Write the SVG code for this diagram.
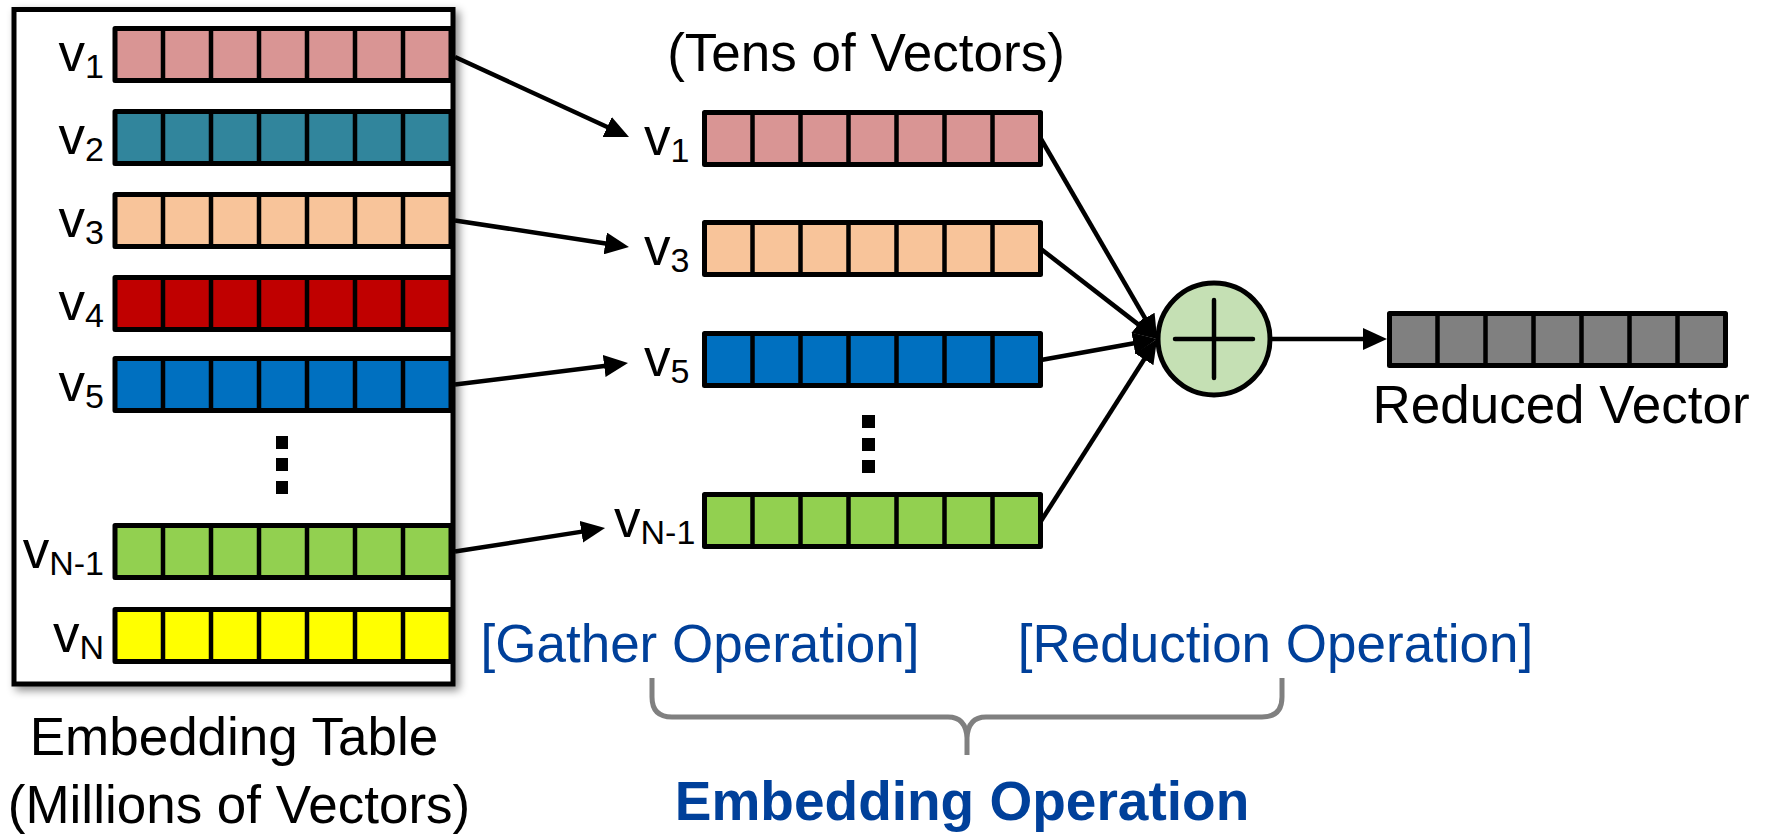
<svg xmlns="http://www.w3.org/2000/svg" xmlns:xlink="http://www.w3.org/1999/xlink" width="1766" height="834" viewBox="0 0 1766 834">
  <style>
    text { font-family: "Liberation Sans", Arial, sans-serif; fill: #000; }
    .lbl { font-size: 53px; }
    .sub { font-size: 34px; }
    .cap { font-size: 53px; }
    .op { font-size: 53px; fill: #00409A; }
    .opb { font-size: 55px; font-weight: bold; fill: #00409A; }
    .link { fill: none; stroke: #000; stroke-width: 4.5; marker-end: url(#head); }
    .dot { fill: #000; }
  </style>
  <defs>
    <!-- 7-cell vector outline, 48px per cell -->
    <g id="grid">
      <rect x="0" y="0" width="336" height="52" fill="none" stroke="#000" stroke-width="5" stroke-linejoin="round"/>
      <path d="M48,0V52M96,0V52M144,0V52M192,0V52M240,0V52M288,0V52" stroke="#000" stroke-width="4.5"/>
    </g>
    <marker id="head" markerUnits="userSpaceOnUse" markerWidth="24" markerHeight="22" refX="12" refY="11" orient="auto">
      <path d="M0,0 L24,11 L0,22 z" fill="#000"/>
    </marker>
    <filter id="shadow" x="-10%" y="-10%" width="125%" height="125%">
      <feDropShadow dx="4" dy="4" stdDeviation="4" flood-color="#000" flood-opacity="0.45"/>
    </filter>
  </defs>

  <!-- Embedding table -->
  <g id="embedding-table">
    <rect x="14" y="9.5" width="439" height="674.5" fill="#fff" stroke="#000" stroke-width="5" filter="url(#shadow)"/>

    <g id="t-v1" transform="translate(115,28.5)">
      <rect width="336" height="52" fill="#D99594"/><use xlink:href="#grid"/>
    </g>
    <text class="lbl" x="104" y="70.5" text-anchor="end">v<tspan class="sub" dy="7">1</tspan></text>

    <g id="t-v2" transform="translate(115,111.5)">
      <rect width="336" height="52" fill="#31859C"/><use xlink:href="#grid"/>
    </g>
    <text class="lbl" x="104" y="153.5" text-anchor="end">v<tspan class="sub" dy="7">2</tspan></text>

    <g id="t-v3" transform="translate(115,194.5)">
      <rect width="336" height="52" fill="#F8C49A"/><use xlink:href="#grid"/>
    </g>
    <text class="lbl" x="104" y="236.5" text-anchor="end">v<tspan class="sub" dy="7">3</tspan></text>

    <g id="t-v4" transform="translate(115,277.5)">
      <rect width="336" height="52" fill="#C00000"/><use xlink:href="#grid"/>
    </g>
    <text class="lbl" x="104" y="319.5" text-anchor="end">v<tspan class="sub" dy="7">4</tspan></text>

    <g id="t-v5" transform="translate(115,358.5)">
      <rect width="336" height="52" fill="#0070C0"/><use xlink:href="#grid"/>
    </g>
    <text class="lbl" x="104" y="400.5" text-anchor="end">v<tspan class="sub" dy="7">5</tspan></text>

    <rect class="dot" x="276" y="436" width="12" height="13"/>
    <rect class="dot" x="276" y="458" width="12" height="13"/>
    <rect class="dot" x="276" y="481" width="12" height="13"/>

    <g id="t-vn1" transform="translate(115,525.5)">
      <rect width="336" height="52" fill="#92D050"/><use xlink:href="#grid"/>
    </g>
    <text class="lbl" x="104" y="567.5" text-anchor="end">v<tspan class="sub" dy="7">N-1</tspan></text>

    <g id="t-vn" transform="translate(115,609.5)">
      <rect width="336" height="52" fill="#FFFF00"/><use xlink:href="#grid"/>
    </g>
    <text class="lbl" x="104" y="651.5" text-anchor="end">v<tspan class="sub" dy="7">N</tspan></text>
  </g>

  <g id="table-caption">
    <text class="cap" x="234" y="755" text-anchor="middle">Embedding Table</text>
    <text class="cap" x="239" y="823" text-anchor="middle">(Millions of Vectors)</text>
  </g>

  <!-- Gathered vectors -->
  <g id="gathered">
    <text class="cap" x="866" y="71" text-anchor="middle">(Tens of Vectors)</text>

    <g id="g-v1" transform="translate(704.5,112.5)">
      <rect width="336" height="52" fill="#D99594"/><use xlink:href="#grid"/>
    </g>
    <text class="lbl" x="644" y="155">v<tspan class="sub" dy="7">1</tspan></text>

    <g id="g-v3" transform="translate(704.5,222.5)">
      <rect width="336" height="52" fill="#F8C49A"/><use xlink:href="#grid"/>
    </g>
    <text class="lbl" x="644" y="265">v<tspan class="sub" dy="7">3</tspan></text>

    <g id="g-v5" transform="translate(704.5,333.5)">
      <rect width="336" height="52" fill="#0070C0"/><use xlink:href="#grid"/>
    </g>
    <text class="lbl" x="644" y="376">v<tspan class="sub" dy="7">5</tspan></text>

    <rect class="dot" x="862" y="415" width="13" height="13"/>
    <rect class="dot" x="862" y="438" width="13" height="13"/>
    <rect class="dot" x="862" y="460" width="13" height="13"/>

    <g id="g-vn1" transform="translate(704.5,494.5)">
      <rect width="336" height="52" fill="#92D050"/><use xlink:href="#grid"/>
    </g>
    <text class="lbl" x="614" y="537">v<tspan class="sub" dy="7">N-1</tspan></text>
  </g>

  <!-- Sum node -->
  <g id="sum">
    <circle cx="1214" cy="339" r="56" fill="#C5E0B4" stroke="#000" stroke-width="5"/>
    <path d="M1175,339H1253M1214,300V378" stroke="#000" stroke-width="4.5" stroke-linecap="round"/>
  </g>

  <!-- Reduced vector -->
  <g id="reduced">
    <g transform="translate(1389.5,313.5)">
      <rect width="336" height="52" fill="#808080"/><use xlink:href="#grid"/>
    </g>
    <text class="cap" x="1561" y="423" text-anchor="middle">Reduced Vector</text>
  </g>

  <!-- Connectors -->
  <g id="connectors">
    <line class="link" x1="455" y1="57" x2="618.1" y2="132"/>
    <line class="link" x1="455" y1="220.5" x2="617.1" y2="245.2"/>
    <line class="link" x1="455" y1="384.5" x2="616.1" y2="364.5"/>
    <line class="link" x1="455" y1="551.5" x2="593.2" y2="529.9"/>

    <line class="link" x1="1041" y1="139" x2="1151.1" y2="328.6"/>
    <line class="link" x1="1041" y1="249" x2="1147.6" y2="331.6"/>
    <line class="link" x1="1041" y1="360" x2="1145.2" y2="341.2"/>
    <line class="link" x1="1041" y1="521" x2="1150.6" y2="349.2"/>

    <line class="link" x1="1270" y1="339" x2="1375" y2="339"/>
  </g>

  <!-- Operation labels and brace -->
  <g id="operations">
    <text class="op" x="700" y="662" text-anchor="middle">[Gather Operation]</text>
    <text class="op" x="1275.5" y="662" text-anchor="middle">[Reduction Operation]</text>
    <path d="M652,678 V697 Q652,717 672,717 H948 Q966,717 967,738 V755 M967,738 Q968,717 986,717 H1262 Q1282,717 1282,697 V678" fill="none" stroke="#808080" stroke-width="5"/>
    <text class="opb" x="962" y="820" text-anchor="middle">Embedding Operation</text>
  </g>
</svg>
